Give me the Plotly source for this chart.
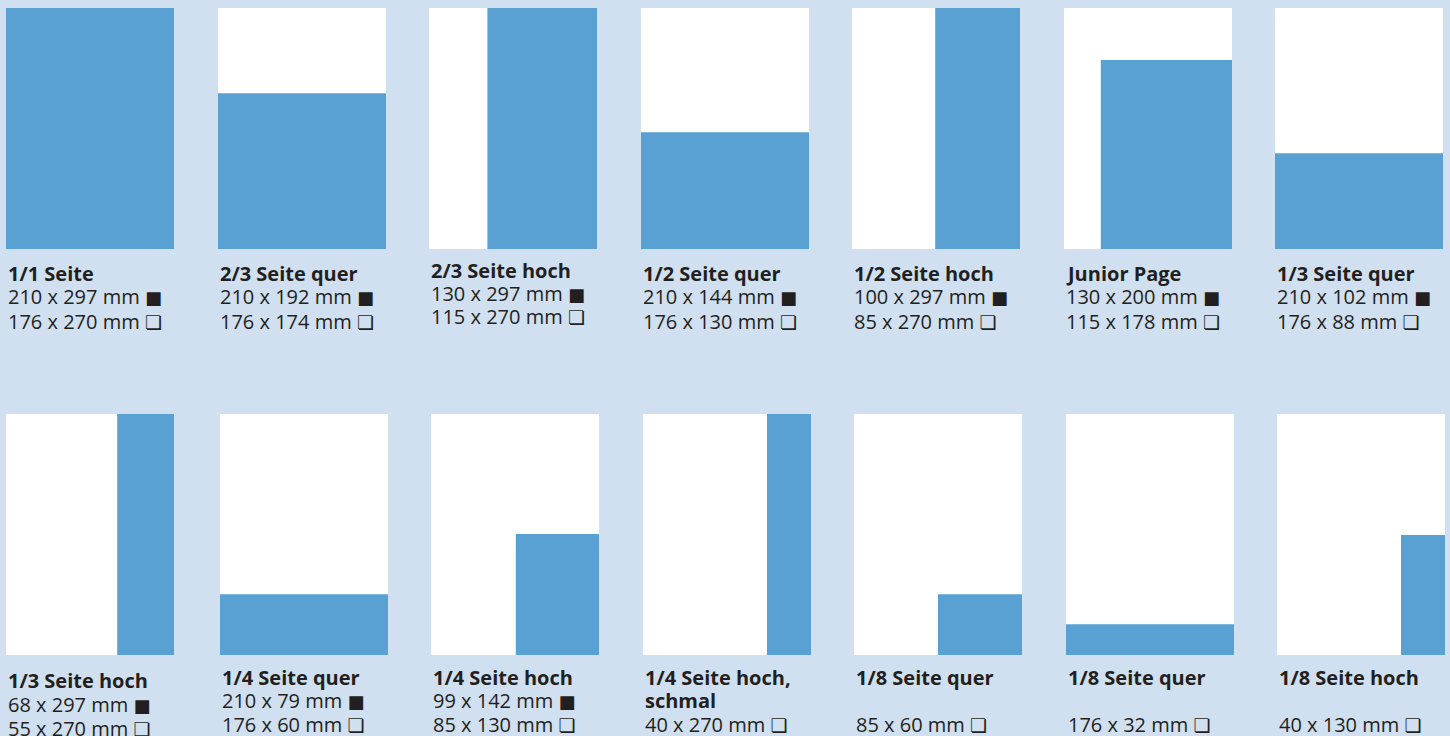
import plotly.graph_objects as go

# ---- data ----
titles = ["1/1 Seite", "2/3 Seite quer", "2/3 Seite hoch", "1/2 Seite quer", "1/2 Seite hoch",
          "Junior Page", "1/3 Seite quer",
          "1/3 Seite hoch", "1/4 Seite quer", "1/4 Seite hoch", "1/4 Seite hoch,<br>schmal",
          "1/8 Seite quer", "1/8 Seite quer", "1/8 Seite hoch"]
bleed_sizes = ["210 x 297 mm", "210 x 192 mm", "130 x 297 mm", "210 x 144 mm", "100 x 297 mm",
               "130 x 200 mm", "210 x 102 mm",
               "68 x 297 mm", "210 x 79 mm", "99 x 142 mm", None, None, None, None]
type_sizes = ["176 x 270 mm", "176 x 174 mm", "115 x 270 mm", "176 x 130 mm", "85 x 270 mm",
              "115 x 178 mm", "176 x 88 mm",
              "55 x 270 mm", "176 x 60 mm", "85 x 130 mm", "40 x 270 mm",
              "85 x 60 mm", "176 x 32 mm", "40 x 130 mm"]
# drawn ad area on a 210 x 297 page
shown_w = [210, 210, 137, 210, 106, 164, 210, 71, 210, 104, 55, 105, 210, 55]
shown_h = [297, 192, 297, 144, 297, 233, 118, 297, 75, 149, 297, 75, 38, 148]
page_w, page_h = 210, 297

# ---- layout constants ----
W, H = 1450, 736
BG = "#D0E0F0"
BLUE = "#59A1D3"
TXT = "#231F20"
FONT = "Open Sans"
SYM_FULL = "<span style='font-family:DejaVu Sans;font-size:18px'>■</span>"
SYM_TYPE = "<span style='font-family:DejaVu Sans;font-size:19px'>❏</span>"
row_lefts = [[6, 218, 429, 641, 852, 1064, 1275], [6, 220, 431, 643, 854, 1066, 1277]]
row_tops = [8, 414]
panel_w, panel_h = 168, 241
text_y = []
for i in range(14):
    if i < 7:
        base = [274, 297, 321]
        if i == 2:
            base = [270, 293, 317]
    else:
        base = [677, 700, 724]
        if i == 7:
            base = [680, 704, 728]
    text_y.append(base)

fig = go.Figure()
shapes = []
annotations = []
layout_axes = {}

def py(p):
    return 1 - p / H

for i in range(14):
    r, c = divmod(i, 7)
    left = row_lefts[r][c]
    top = row_tops[r]
    n = i + 1
    xa = "xaxis" if n == 1 else f"xaxis{n}"
    ya = "yaxis" if n == 1 else f"yaxis{n}"
    xr = "x" if n == 1 else f"x{n}"
    yr = "y" if n == 1 else f"y{n}"
    layout_axes[xa] = dict(domain=[left / W, (left + panel_w) / W], range=[0, page_w],
                           visible=False, fixedrange=True, anchor=yr)
    layout_axes[ya] = dict(domain=[py(top + panel_h), py(top)], range=[0, page_h],
                           visible=False, fixedrange=True, anchor=xr)
    fig.add_trace(go.Scatter(x=[None], y=[None], xaxis=xr, yaxis=yr, showlegend=False,
                             hoverinfo="skip"))
    shapes.append(dict(type="rect", xref=xr, yref=yr, x0=0, x1=page_w, y0=0, y1=page_h,
                       fillcolor="white", line=dict(width=0), layer="below"))
    shapes.append(dict(type="rect", xref=xr, yref=yr, x0=page_w - shown_w[i], x1=page_w,
                       y0=0, y1=shown_h[i], fillcolor=BLUE, line=dict(width=0), layer="below"))
    ty = text_y[i]
    if "<br>" in titles[i]:
        parts = titles[i].split("<br>")
        lines = [("<b>" + parts[0] + "</b>", ty[0]), ("<b>" + parts[1] + "</b>", ty[1])]
    else:
        lines = [("<b>" + titles[i] + "</b>", ty[0])]
        if bleed_sizes[i]:
            lines.append((bleed_sizes[i] + " " + SYM_FULL, ty[1]))
    lines.append((type_sizes[i] + " " + SYM_TYPE, ty[2]))
    for txt, yy in lines:
        annotations.append(dict(text=txt, xref=f"{xr} domain", x=0, xanchor="left",
                                yref="paper", y=py(yy), yanchor="middle", showarrow=False,
                                font=dict(family=FONT, size=20, color=TXT)))

fig.update_layout(width=W, height=H, margin=dict(l=0, r=0, t=0, b=0),
                  paper_bgcolor=BG, plot_bgcolor=BG, shapes=shapes, annotations=annotations,
                  showlegend=False, **layout_axes)
fig.write_html("out.html", config={"displayModeBar": False},
               post_script="document.body.style.margin='0px';")
